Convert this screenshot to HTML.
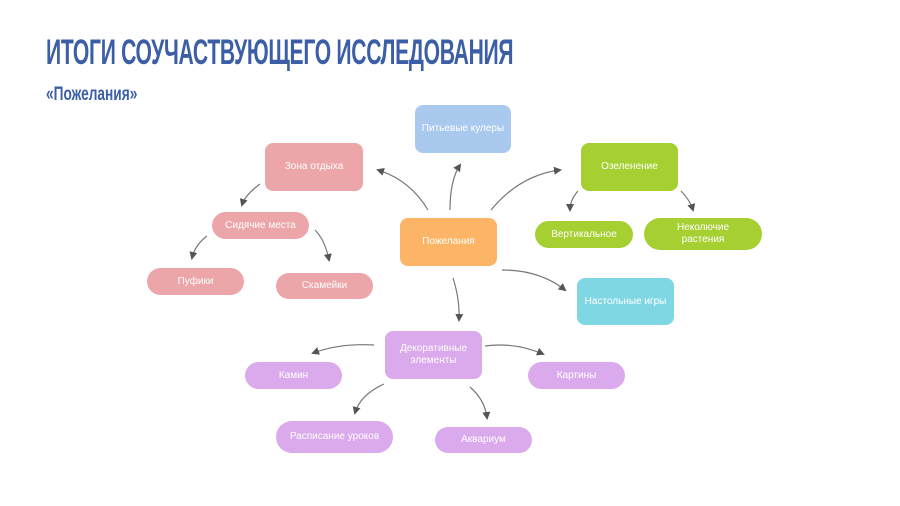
<!DOCTYPE html>
<html><head><meta charset="utf-8"><style>
body{margin:0;width:900px;height:506px;background:#fff;position:relative;overflow:hidden;font-family:"Liberation Sans","Noto Sans CJK SC",sans-serif}
.t{position:absolute;left:46px;top:33px;font-family:"Liberation Sans Narrow","Liberation Sans",sans-serif;font-weight:bold;color:#3b5ea6;font-size:35px;transform:scaleX(0.603);transform-origin:left top;letter-spacing:-0.5px;white-space:nowrap}
.s{position:absolute;left:46px;top:84px;font-family:"Liberation Sans Narrow","Liberation Sans",sans-serif;font-weight:bold;color:#3b5ea6;font-size:19px;transform:scaleX(0.72);transform-origin:left top;white-space:nowrap}
.n{position:absolute;display:flex;align-items:center;justify-content:center;text-align:center;color:#fff;font-size:10px;line-height:12px;border-radius:8px}
.p{border-radius:14px}
.pk{background:#eca6a9}.bl{background:#a9c9ef}.or{background:#fcb466}.gr{background:#a6d032}.cy{background:#80d7e4}.pu{background:#dbaaec}
svg{position:absolute;left:0;top:0}
</style></head><body>
<div class="t">ИТОГИ СОУЧАСТВУЮЩЕГО ИССЛЕДОВАНИЯ</div>
<div class="s">«Пожелания»</div>
<svg width="900" height="506">
<defs><marker id="a" markerWidth="8" markerHeight="8" refX="6" refY="4" orient="auto" markerUnits="userSpaceOnUse"><path d="M0,0 L8,4 L0,8z" fill="#555"/></marker></defs>
<g fill="none" stroke="#777" stroke-width="1.2" marker-end="url(#a)">
<path d="M428,210 Q410,180 378,170"/>
<path d="M450,210 Q450,180 460,165"/>
<path d="M491,210 Q520,175 560,170"/>
<path d="M502,270 Q540,270 565,290"/>
<path d="M453,278 Q460,300 459,320"/>
<path d="M260,184 Q245,195 242,205"/>
<path d="M207,236 Q195,245 192,258"/>
<path d="M315,230 Q325,240 329,260"/>
<path d="M578,191 Q570,200 570,210"/>
<path d="M681,191 Q690,200 693,210"/>
<path d="M374,345 Q340,343 313,353"/>
<path d="M485,346 Q515,342 543,354"/>
<path d="M384,384 Q360,395 355,413"/>
<path d="M470,387 Q485,400 487,418"/>
</g>
</svg>
<div class="n bl" style="left:415px;top:105px;width:96px;height:48px">Питьевые кулеры</div>
<div class="n pk" style="left:265px;top:143px;width:98px;height:48px">Зона отдыха</div>
<div class="n pk p" style="left:212px;top:212px;width:97px;height:27px">Сидячие места</div>
<div class="n pk p" style="left:147px;top:268px;width:97px;height:27px">Пуфики</div>
<div class="n pk p" style="left:276px;top:273px;width:97px;height:26px">Скамейки</div>
<div class="n or" style="left:400px;top:218px;width:97px;height:48px">Пожелания</div>
<div class="n gr" style="left:581px;top:143px;width:97px;height:48px">Озеленение</div>
<div class="n gr p" style="left:535px;top:221px;width:98px;height:27px">Вертикальное</div>
<div class="n gr p" style="left:644px;top:218px;width:118px;height:32px;border-radius:16px">Неколючие<br>растения</div>
<div class="n cy" style="left:577px;top:278px;width:97px;height:47px">Настольные игры</div>
<div class="n pu" style="left:385px;top:331px;width:97px;height:48px">Декоративные<br>элементы</div>
<div class="n pu p" style="left:245px;top:362px;width:97px;height:27px">Камин</div>
<div class="n pu p" style="left:528px;top:362px;width:97px;height:27px">Картины</div>
<div class="n pu p" style="left:276px;top:421px;width:117px;height:32px;border-radius:16px">Расписание уроков</div>
<div class="n pu p" style="left:435px;top:427px;width:97px;height:26px">Аквариум</div>
</body></html>
